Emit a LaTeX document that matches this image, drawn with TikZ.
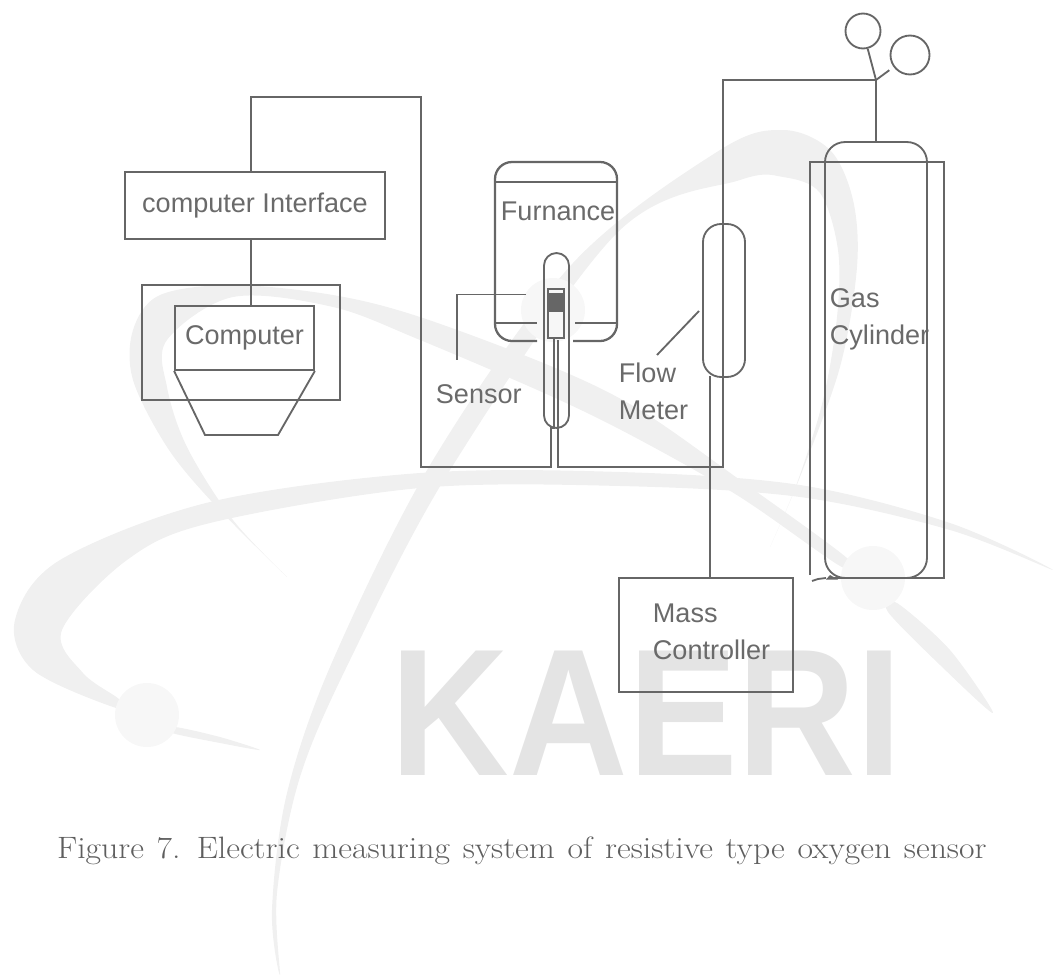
\documentclass[tikz,border=0pt]{standalone}
\usepackage{fontspec}
\newfontfamily\labelfont{Liberation Sans}
\definecolor{wirec}{HTML}{666666}
\definecolor{textc}{HTML}{6A6A6A}
\definecolor{capc}{HTML}{5E5E5E}
\definecolor{bandc}{HTML}{F0F0F0}
\definecolor{ballc}{HTML}{F7F7F7}
\definecolor{markc}{HTML}{E4E4E4}
\begin{document}
\begin{tikzpicture}[x=0.02cm,y=-0.02cm,line width=1.05pt,draw=wirec]
    \tikzset{box/.style={draw, inner sep=0pt, text=textc, font=\labelfont\fontsize{15.4}{21}\selectfont},
             pill/.style={draw, inner sep=0pt},
             lab/.style={inner sep=0pt, text=textc, align=left, font=\labelfont\fontsize{15.4}{21}\selectfont},
             band/.style={fill=bandc, draw=none}}
    \useasboundingbox (0,0) rectangle (1055,977);
    % watermark
    \fill[band] plot[smooth cycle, tension=0.55] coordinates {(1053,570) (950,523) (800,485) (620,472) (420,473) (210,502) (60,560) (15,620) (33,670) (113,707) (120,700) (83,673) (62,630) (127,560) (210,523) (420,488) (620,486) (800,497) (950,530)};
    \fill[band] plot[smooth cycle, tension=0.55] coordinates {(847,558) (740,480) (640,410) (553,367) (420,317) (333,295) (233,285) (160,295) (133,330) (133,380) (167,447) (213,503) (287,577) (233,520) (187,447) (167,387) (167,340) (233,297) (333,307) (420,340) (553,397) (640,440) (740,497) (840,566)};
    \fill[band] plot[smooth cycle, tension=0.55] coordinates {(770,547) (800,477) (840,367) (857,267) (853,200) (830,150) (783,130) (720,150) (573,263) (433,460) (333,660) (287,793) (272,910) (280,975) (277,893) (300,777) (350,660) (450,470) (617,233) (740,180) (783,177) (820,193) (838,250) (837,317) (823,400) (797,483)};
    \fill[band] plot[smooth cycle, tension=0.5] coordinates {(897,603) (950,650) (993,713) (940,665) (888,612)};
    \fill[band] plot[smooth cycle, tension=0.5] coordinates {(175,727) (220,737) (260,750) (220,743) (172,733)};
    \node[inner sep=0pt, anchor=base west, text=markc, xscale=0.908, font=\labelfont\bfseries\fontsize{103}{103}\selectfont] (kaeri) at (390,775) {KAERI};
    \foreach \bx/\by in {147/715,873/578,553/310} {
      \fill[ballc] (\bx,\by) circle (32);
    }
    % left side
    \node[box, minimum width=5.2cm, minimum height=1.34cm] (iface) at (255,205.5) {computer Interface};
    \node[box, minimum width=3.96cm, minimum height=2.3cm] (frame) at (241,342.5) {};
    \node[box, minimum width=2.78cm, minimum height=1.28cm] (comp) at (244.5,338) {Computer};
    \coordinate (ifup) at (251,97);
    \coordinate (ifright) at (421,97);
    \coordinate (hubleft) at (421,467);
    \coordinate (scrl) at (205,435);
    \coordinate (scrr) at (278,435);
    \draw (comp.south west) -- (scrl) -- (scrr) -- (comp.south east);
    \draw (ifup |- iface.south) -- (ifup |- comp.north);
    % furnace and probe
    \draw[rounded corners=0.34cm, line width=1.3pt] (537,341) -- (495,341) -- (495,162) -- (617,162) -- (617,341) -- (573,341);
    \draw (495,182) -- (617,182);
    \draw (495,323) -- (537,323);
    \draw (575,323) -- (617,323);
    \node[lab, anchor=base west] (furnlabel) at (500,220) {Furnance};
    \node[pill, rounded corners=0.25cm, minimum width=0.5cm, minimum height=3.5cm] (tube) at (556.5,340.5) {};
    \node[pill, minimum width=0.32cm, minimum height=0.98cm] (probe) at (556,313.5) {};
    \node[fill=wirec, inner sep=0pt, minimum width=0.32cm, minimum height=0.38cm] (probetop) at (556,302.5) {};
    \coordinate (wirea) at (551,428);
    \coordinate (wireb) at (558,428);
    \draw (ifup |- iface.north) -- (ifup) -- (ifright) -- (hubleft) -- (wirea |- hubleft) -- (wirea) -- (554,428) -- (554,338);
    \coordinate (sensortip) at (526,294.5);
    \coordinate (sensorend) at (457,360);
    \draw (sensortip) -- (sensortip -| sensorend) -- (sensorend);
    \node[lab, anchor=base west] (senslabel) at (435,403) {Sensor};
    % flow meter and gas
    \node[pill, rounded corners=0.36cm, minimum width=0.84cm, minimum height=3.06cm] (flow) at (724,300.5) {};
    \coordinate (junc) at (876,80);
    \coordinate (flowtop) at (723,80);
    \coordinate (flowbot) at (723,467);
    \coordinate (flowout) at (710,376);
    \coordinate (flowtip) at (699,311);
    \coordinate (flowend) at (657,355);
    \draw (558,340) -- (wireb |- hubleft) -- (flowbot) -- (flowtop) -- (junc);
    \draw (flowtip) -- (flowend);
    \node[lab, anchor=west] (flowlabel) at (618,391) {Flow\\Meter};
    \node[box, minimum width=3.48cm, minimum height=2.28cm] (mass) at (706,635) {};
    \node[lab, anchor=west] (masslabel) at (652,632) {Mass\\Controller};
    \draw (flowout) -- (flowout |- mass.north);
    \node[pill, circle, minimum size=0.7cm] (gaugea) at (863,31) {};
    \node[pill, circle, minimum size=0.78cm] (gaugeb) at (910,55) {};
    \node[pill, rounded corners=0.4cm, minimum width=2.04cm, minimum height=8.72cm] (cyl) at (876,360) {};
    \draw (gaugea) -- (junc);
    \draw[shorten <=3pt] (gaugeb) -- (junc);
    \draw (junc) -- (cyl.north);
    \draw (810,575) -- (810,162) -- (944,162) -- (944,578) -- (832,578);
    \draw (812,581) -- (818,579) -- (826,578);
    \fill[wirec] (826,579.5) -- (830,575) -- (838,579.5) -- cycle;
    \node[lab, anchor=west] (gaslabel) at (829,319) {Gas\\Cylinder};
    % caption
    \node[inner sep=0pt, anchor=base west, text=capc, xscale=1.09, font=\rmfamily\fontsize{17.6}{21}\selectfont] (caption) at (56,858) {\spaceskip=6.65pt Figure 7. Electric measuring system of resistive type oxygen sensor};
\end{tikzpicture}
\end{document}
